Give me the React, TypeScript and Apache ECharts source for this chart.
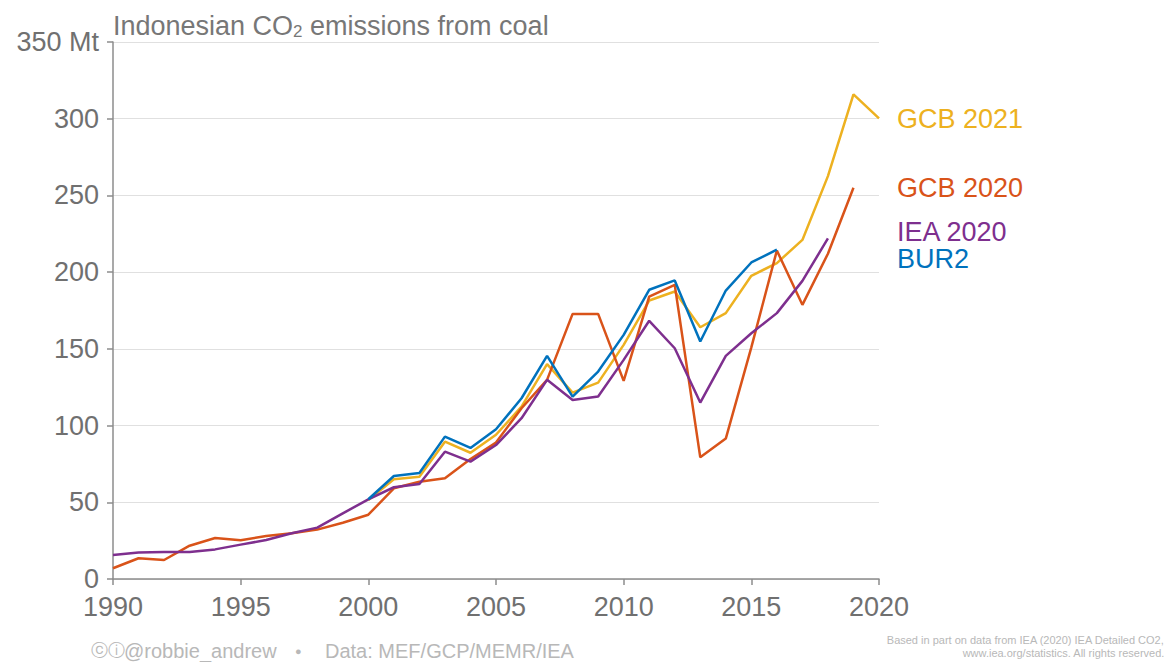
import React, { useEffect, useRef } from "react";
import * as echarts from "echarts";

const years: number[] = [];
for (let y = 1990; y <= 2020; y++) years.push(y);

// Mt CO2, by year starting 1990 (null = no data)
const gcb2020: (number | null)[] = [
  7.0, 13.5, 12.4, 21.7, 26.7, 25.2, 28.0, 29.8, 32.2, 36.7,
  41.9, 59.1, 63.4, 65.6, 78.2, 88.9, 111.3, 129.8, 172.8, 172.8,
  129.1, 184.1, 191.7, 79.3, 91.5, 151.0, 214.1, 178.7, 212.0, 255.0, null,
];
const iea2020: (number | null)[] = [
  15.6, 17.2, 17.6, 17.6, 19.3, 22.4, 25.4, 29.8, 33.5, 42.8,
  51.9, 59.8, 61.9, 83.0, 76.5, 87.3, 104.8, 129.8, 116.7, 118.9,
  142.8, 168.3, 150.4, 115.0, 145.4, 160.2, 173.3, 194.3, 222.0, null, null,
];
const bur2: (number | null)[] = [
  null, null, null, null, null, null, null, null, null, null,
  52.0, 67.1, 69.1, 92.8, 85.4, 97.6, 117.8, 145.4, 118.9, 135.2,
  159.1, 188.5, 194.6, 154.8, 188.0, 206.3, 214.6, null, null, null, null,
];
const gcb2021: (number | null)[] = [
  null, null, null, null, null, null, null, null, null, null,
  51.5, 65.0, 66.7, 89.5, 82.3, 94.0, 112.4, 140.0, 121.5, 128.0,
  152.6, 181.5, 187.4, 164.1, 173.3, 197.6, 205.9, 221.0, 262.6, 315.9, 300.2,
];

const seriesNames = ["BUR2", "IEA 2020", "GCB 2020", "GCB 2021"];
const seriesColors = ["#0072BD", "#7E2F8E", "#D95319", "#EDB120"];
const seriesValues = [bur2, iea2020, gcb2020, gcb2021];

const FONT = "'Liberation Sans', Arial, Helvetica, sans-serif";

function pairs(vals: (number | null)[]) {
  const out: [number, number][] = [];
  vals.forEach((v, i) => {
    if (v !== null) out.push([years[i], v]);
  });
  return out;
}

export default function App() {
  const ref = useRef<HTMLDivElement>(null);
  useEffect(() => {
    if (!ref.current) return;
    const chart = echarts.init(ref.current, undefined, { renderer: "svg" });
    chart.setOption({
      animation: false,
      backgroundColor: "#ffffff",
      grid: { left: 113, right: 289, top: 42, bottom: 83, containLabel: false },
      xAxis: {
        type: "value",
        min: 1990,
        max: 2020,
        interval: 5,
        axisLine: { show: true, lineStyle: { color: "#8c8c8c", width: 1.5 } },
        axisTick: { show: true, length: 6, lineStyle: { color: "#8c8c8c", width: 1.5 } },
        axisLabel: {
          color: "#707070",
          fontSize: 27,
          fontFamily: FONT,
          margin: 14,
          formatter: (v: number) => String(v),
        },
        splitLine: { show: false },
      },
      yAxis: {
        type: "value",
        min: 0,
        max: 350,
        interval: 50,
        axisLine: { show: true, lineStyle: { color: "#8c8c8c", width: 1.5 } },
        axisTick: { show: true, length: 6, lineStyle: { color: "#8c8c8c", width: 1.5 } },
        axisLabel: {
          color: "#707070",
          fontSize: 27,
          fontFamily: FONT,
          margin: 14,
          formatter: (v: number) => (v === 350 ? "350 Mt" : String(v)),
        },
        splitLine: { show: true, lineStyle: { color: "#e0e0e0", width: 1 } },
      },
      series: seriesNames.map((name, i) => ({
        name,
        type: "line",
        data: pairs(seriesValues[i]),
        showSymbol: false,
        symbol: "none",
        lineStyle: { color: seriesColors[i], width: 2.5 },
        itemStyle: { color: seriesColors[i] },
        z: 10 - i,
      })),
      graphic: [
        {
          type: "text",
          left: 113,
          top: 12,
          style: {
            text: "Indonesian CO{sub|2} emissions from coal",
            fill: "#777777",
            font: `27px ${FONT}`,
            rich: {
              sub: { fontSize: 17, fontFamily: FONT, fill: "#777777", padding: [12, 0, 0, 0] },
            },
          },
        },
        { type: "text", left: 897, top: 105, style: { text: "GCB 2021", fill: "#EDB120", font: `27px ${FONT}`, lineHeight: 24 } },
        { type: "text", left: 897, top: 174, style: { text: "GCB 2020", fill: "#D95319", font: `27px ${FONT}`, lineHeight: 24 } },
        { type: "text", left: 897, top: 218, style: { text: "IEA 2020", fill: "#7E2F8E", font: `27px ${FONT}`, lineHeight: 24 } },
        { type: "text", left: 897, top: 245, style: { text: "BUR2", fill: "#0072BD", font: `27px ${FONT}`, lineHeight: 24 } },
        {
          type: "text",
          left: 91,
          top: 642,
          style: { text: "ⓒⓘ", fill: "#b8b8b8", font: `17px ${FONT}` },
        },
        {
          type: "text",
          left: 124,
          top: 641,
          style: { text: "@robbie_andrew", fill: "#b8b8b8", font: `20px ${FONT}` },
        },
        {
          type: "text",
          left: 295,
          top: 645,
          style: { text: "●", fill: "#b8b8b8", font: `11px ${FONT}` },
        },
        {
          type: "text",
          left: 325,
          top: 641,
          style: { text: "Data: MEF/GCP/MEMR/IEA", fill: "#b8b8b8", font: `20px ${FONT}` },
        },
        {
          type: "text",
          right: 3,
          top: 634,
          style: { text: "Based in part on data from IEA (2020) IEA Detailed CO2,", fill: "#b8b8b8", font: `11px ${FONT}` },
        },
        {
          type: "text",
          right: 3,
          top: 647,
          style: { text: "www.iea.org/statistics. All rights reserved.", fill: "#b8b8b8", font: `11px ${FONT}` },
        },
      ],
    });
    return () => chart.dispose();
  }, []);
  return <div ref={ref} style={{ width: 1168, height: 662, position: "absolute", left: 0, top: 0 }} />;
}
